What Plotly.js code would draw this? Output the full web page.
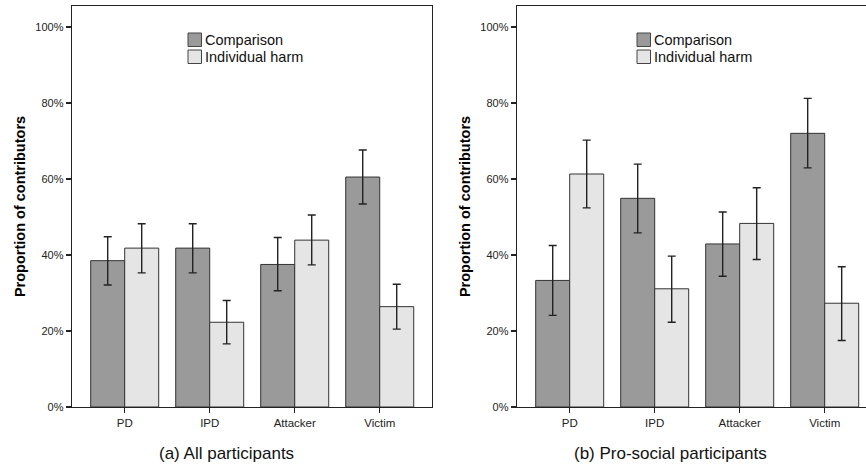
<!DOCTYPE html>
<html>
<head>
<meta charset="utf-8">
<script src="https://cdn.plot.ly/plotly-3.0.1.min.js"></script>
<style>html,body{margin:0;padding:0;background:#fff;} #chart{width:866px;height:465px;}</style>
</head>
<body>
<div id="chart"></div>
<script>
var categories = ['PD', 'IPD', 'Attacker', 'Victim'];
var seriesNames = ['Comparison', 'Individual harm'];
var panelTitles = ['(a) All participants', '(b) Pro-social participants'];
var tickValues = [0, 20, 40, 60, 80, 100];
var tickLabels = ['0%', '20%', '40%', '60%', '80%', '100%'];

// (a) All participants
var allComparison   = [38.5, 41.8, 37.5, 60.5];
var allComparisonHi = [44.8, 48.2, 44.6, 67.6];
var allComparisonLo = [32.1, 35.3, 30.6, 53.4];
var allHarm   = [41.8, 22.3, 43.9, 26.4];
var allHarmHi = [48.2, 28.0, 50.5, 32.3];
var allHarmLo = [35.3, 16.6, 37.4, 20.5];

// (b) Pro-social participants
var proComparison   = [33.3, 54.9, 42.9, 72.0];
var proComparisonHi = [42.5, 63.9, 51.3, 81.2];
var proComparisonLo = [24.1, 45.8, 34.4, 62.9];
var proHarm   = [61.3, 31.1, 48.3, 27.3];
var proHarmHi = [70.2, 39.7, 57.7, 36.9];
var proHarmLo = [52.4, 22.3, 38.8, 17.5];

var W = 866, H = 465;
function px(x) { return x / W; }
function py(y) { return (H - y) / H; }

var darkFill = '#9a9a9a', lightFill = '#e5e5e5', edge = '#333333', ink = '#222222';
var FONT = 'Liberation Sans, Arial, Helvetica, sans-serif';

function diff(a, b) { return a.map(function (v, i) { return Math.abs(v - b[i]); }); }

function barTrace(vals, hi, lo, fill, name, xa, ya) {
  return {
    type: 'bar', x: categories, y: vals, name: name, xaxis: xa, yaxis: ya,
    showlegend: false,
    marker: { color: fill, line: { color: edge, width: 1 } },
    error_y: { type: 'data', symmetric: false, array: diff(hi, vals), arrayminus: diff(vals, lo),
               color: ink, thickness: 1.4, width: 4 },
    hoverinfo: 'skip'
  };
}

var data = [
  barTrace(allComparison, allComparisonHi, allComparisonLo, darkFill, seriesNames[0], 'x', 'y'),
  barTrace(allHarm, allHarmHi, allHarmLo, lightFill, seriesNames[1], 'x', 'y'),
  barTrace(proComparison, proComparisonHi, proComparisonLo, darkFill, seriesNames[0], 'x2', 'y2'),
  barTrace(proHarm, proHarmHi, proHarmLo, lightFill, seriesNames[1], 'x2', 'y2')
];

var yDomain = [py(407), py(6)];
var yRange = [0, 105.5];

function yAxis(anchor, mirror) {
  return {
    domain: yDomain, range: yRange, anchor: anchor, showgrid: false, zeroline: false,
    tickmode: 'array', tickvals: tickValues, ticktext: tickLabels,
    ticks: 'outside', ticklen: 5, tickwidth: 1.2, tickcolor: ink,
    showline: true, linecolor: ink, linewidth: 1.3, mirror: mirror,
    tickfont: { family: FONT, size: 11, color: ink },
    title: { text: '<b>Proportion of contributors</b>', font: { family: FONT, size: 14.5, color: '#000' }, standoff: 6 },
    fixedrange: true
  };
}
function xAxis(anchor, domain, range) {
  return {
    domain: domain, range: range, anchor: anchor, type: 'category', showgrid: false, zeroline: false,
    ticks: 'outside', ticklen: 5, tickwidth: 1.2, tickcolor: ink,
    showline: true, linecolor: ink, linewidth: 1.3, mirror: true,
    tickfont: { family: FONT, size: 11.5, color: ink }, fixedrange: true
  };
}

var shapes = [], annotations = [];
function legendAt(boxX, textX) {
  var rows = [[33, 46.5, darkFill, seriesNames[0], 40], [50, 63.5, lightFill, seriesNames[1], 57]];
  rows.forEach(function (r) {
    shapes.push({ type: 'rect', xref: 'paper', yref: 'paper', x0: px(boxX), x1: px(boxX + 13.5),
                  y0: py(r[1]), y1: py(r[0]), fillcolor: r[2], line: { color: '#444', width: 1 } });
    annotations.push({ xref: 'paper', yref: 'paper', x: px(textX), y: py(r[4]), xanchor: 'left', yanchor: 'middle',
                       text: r[3], showarrow: false, font: { family: FONT, size: 14.5, color: '#111' } });
  });
}
legendAt(188, 203);
legendAt(637, 652);

annotations.push({ xref: 'paper', yref: 'paper', x: px(226), y: py(453), xanchor: 'center', yanchor: 'middle',
                   text: panelTitles[0], showarrow: false, font: { family: FONT, size: 17, color: '#111' } });
annotations.push({ xref: 'paper', yref: 'paper', x: px(670.5), y: py(453), xanchor: 'center', yanchor: 'middle',
                   text: panelTitles[1], showarrow: false, font: { family: FONT, size: 17, color: '#111' } });

var layout = {
  width: W, height: H, margin: { l: 0, r: 0, t: 0, b: 0 },
  paper_bgcolor: '#fff', plot_bgcolor: '#fff',
  barmode: 'group', bargap: 0.2, bargroupgap: 0,
  showlegend: false,
  xaxis: xAxis('y', [px(72), px(432)], [-0.62, 3.615]),
  yaxis: yAxis('x', true),
  xaxis2: xAxis('y2', [px(517), 1], [-0.62, 3.486]),
  yaxis2: yAxis('x2', false),
  shapes: shapes, annotations: annotations,
  font: { family: FONT }
};

Plotly.newPlot('chart', data, layout, { displayModeBar: false, staticPlot: true });
</script>
</body>
</html>
